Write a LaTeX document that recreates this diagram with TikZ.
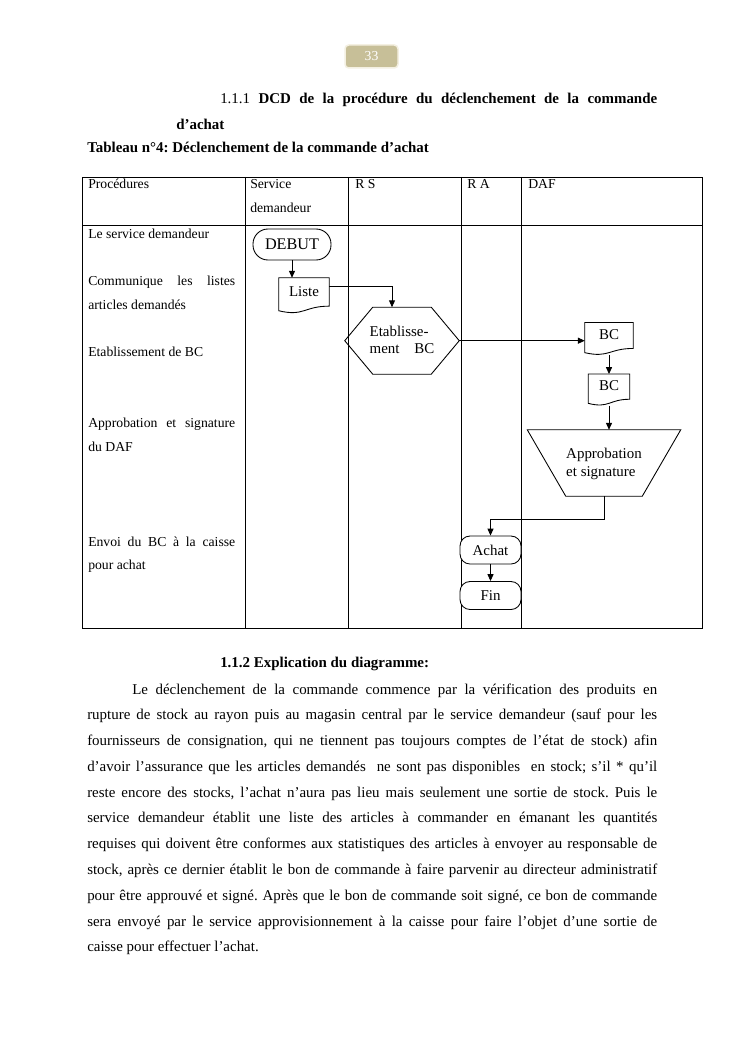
\documentclass[tikz,border=0pt]{standalone}
\usepackage{fontspec}
\setmainfont{Liberation Serif}
\usepackage{tikz}
\usetikzlibrary{arrows.meta, calc}
\definecolor{pagetan}{RGB}{199,191,152}
\definecolor{pagecream}{RGB}{244,240,226}
\tikzset{
  heading/.style={anchor=base west, inner sep=0pt,
                  font=\bfseries\fontsize{12}{20.7}\selectfont\frenchspacing},
  para/.style={anchor=base west, inner sep=0pt, align=justify,
               font=\fontsize{12}{20.7}\selectfont\frenchspacing},
  cell/.style={anchor=base west, inner sep=0pt, align=left,
               font=\fontsize{11}{18.96}\selectfont},
  proc/.style={cell, text width=117.6bp, align=justify},
  tabline/.style={line width=0.6bp},
  shapeline/.style={line width=0.7bp},
  term/.style={rectangle, rounded corners=8bp, draw, line width=0.7bp,
               fill=white, inner sep=0pt, font=\fontsize{12}{13.8}\selectfont},
  doc/.style={rectangle, inner sep=0pt, text depth=0.65em,
              font=\fontsize{12}{13.8}\selectfont},
  flat/.style={rectangle, inner sep=0pt, align=left,
               font=\fontsize{12}{13.8}\selectfont},
  pagebox/.style={rectangle, rounded corners=3bp, fill=pagetan, draw=pagecream,
                  line width=1.2bp, minimum width=42.4bp, minimum height=18.4bp,
                  text=white, font=\fontsize{11}{13}\selectfont},
  arrow/.style={-{Triangle[length=5.5bp, width=4.8bp]}, line width=0.7bp},
}
% outlines drawn round plain nodes
\newcommand{\docshape}[1]{%
  \draw[shapeline] (#1.north west) -- (#1.north east)
    -- ($(#1.north east)!0.80!(#1.south east)$)
    .. controls ($(#1.north)!0.80!(#1.south)$) and ($(#1.north)!1.10!(#1.south)$)
    .. ($(#1.north west)!0.93!(#1.south west)$) -- cycle;}
\newcommand{\hexshape}[2]{%
  \draw[shapeline] (#1.west) -- ([xshift=#2]#1.north west)
    -- ([xshift=-#2]#1.north east) -- (#1.east)
    -- ([xshift=-#2]#1.south east) -- ([xshift=#2]#1.south west) -- cycle;}
\newcommand{\trapshape}[2]{%
  \draw[shapeline] (#1.north west) -- (#1.north east)
    -- ([xshift=-#2]#1.south east) -- ([xshift=#2]#1.south west) -- cycle;}

\begin{document}
\begin{tikzpicture}[x=0.8bp, y=-0.8bp]
  \path[use as bounding box, fill=white] (0,0) rectangle (745,1053);

  % Page number
  \node[pagebox] (pagenum) at (371.5,56.5) {33};

  % Titles
  \node[para, text width=384.8bp] (titre) at (176,104)
    {\hspace*{35.2bp}1.1.1 \textbf{DCD de la procédure du déclenchement de la commande}\linebreak
     \textbf{d’achat}};
  \node[heading] (tabtitre) at (87,153)
    {Tableau n°4: Déclenchement de la commande d’achat};

  % Table grid
  \draw[tabline] (82,177) rectangle (702,628);
  \draw[tabline] (82,225) -- (702,225);
  \foreach \x in {245,348,461,521}
    \draw[tabline] (\x,177) -- (\x,628);

  % Header row
  \node[cell] (hproc) at (88,189) {Procédures};
  \node[cell, text width=80bp] (hserv) at (250,189) {Service\\demandeur};
  \node[cell] (hrs) at (355,189) {R S};
  \node[cell] (hra) at (467,189) {R A};
  \node[cell] (hdaf) at (528,189) {DAF};

  % Procedure column
  \node[proc] (proc1) at (88,238) {Le service demandeur};
  \node[proc] (proc2) at (88,285.4) {Communique les listes\linebreak articles demandés};
  \node[proc] (proc3) at (88,356.5) {Etablissement de BC};
  \node[proc] (proc4) at (88,427.6) {Approbation et signature\linebreak du DAF};
  \node[proc] (proc5) at (88,546) {Envoi du BC à la caisse\linebreak pour achat};

  % Flow nodes
  \node[term, rounded corners=12bp, minimum width=62.4bp, minimum height=24.8bp,
        font=\fontsize{13}{15}\selectfont] (debut) at (292,244.5) {DEBUT};
  \node[doc, minimum width=40bp, minimum height=28bp] (liste) at (304,295.5) {Liste};
  \docshape{liste}
  \node[flat, minimum width=91.2bp, minimum height=53.2bp, text depth=0.1em] (etab) at (402,340.7)
    {Etablisse-\\ment\quad BC};
  \hexshape{etab}{22.4bp}
  \node[doc, minimum width=38.4bp, minimum height=25.6bp] (bc1) at (609,338.7) {BC};
  \docshape{bc1}
  \node[doc, minimum width=32.8bp, minimum height=24.8bp] (bc2) at (609,389.8) {BC};
  \docshape{bc2}
  \node[flat, minimum width=122.4bp, minimum height=52.8bp, text depth=0.1em] (appro) at (604,463)
    {Approbation\\et signature};
  \trapshape{appro}{30.8bp}
  \node[term, minimum width=48.8bp, minimum height=22.4bp] (achat) at (490.5,550) {Achat};
  \node[term, minimum width=48.8bp, minimum height=22.4bp] (fin) at (490.5,595.5) {Fin};

  % Arrows
  \draw[arrow] (debut.south) -- (debut.south |- liste.north);
  \draw[arrow] ([yshift=7bp]liste.east) -| ([xshift=-8bp]etab.north);
  \draw[arrow] (etab.east) -- (etab.east -| bc1.west);
  \draw[arrow] (bc1.south) -- (bc1.south |- bc2.north);
  \draw[arrow] (bc2.south) -- (bc2.south |- appro.north);
  \draw[arrow] (appro.south) -- ++(0,23) -| (achat.north);
  \draw[arrow] (achat.south) -- (fin.north);

  % Explanation
  \node[heading] (explic) at (220,667) {1.1.2 Explication du diagramme:};
  \node[para, text width=456bp] (texte) at (87,694)
    {\hspace*{36bp}Le déclenchement de la commande commence par la vérification des produits en\linebreak
     rupture de stock au rayon puis au magasin central par le service demandeur (sauf pour les\linebreak
     fournisseurs de consignation, qui ne tiennent pas toujours comptes de l’état de stock) afin\linebreak
     d’avoir l’assurance que les articles demandés~ ne sont pas disponibles~ en stock; s’il * qu’il\linebreak
     reste encore des stocks, l’achat n’aura pas lieu mais seulement une sortie de stock. Puis le\linebreak
     service demandeur établit une liste des articles à commander en émanant les quantités\linebreak
     requises qui doivent être conformes aux statistiques des articles à envoyer au responsable de\linebreak
     stock, après ce dernier établit le bon de commande à faire parvenir au directeur administratif\linebreak
     pour être approuvé et signé. Après que le bon de commande soit signé, ce bon de commande\linebreak
     sera envoyé par le service approvisionnement à la caisse pour faire l’objet d’une sortie de\linebreak
     caisse pour effectuer l’achat.};
\end{tikzpicture}
\end{document}
